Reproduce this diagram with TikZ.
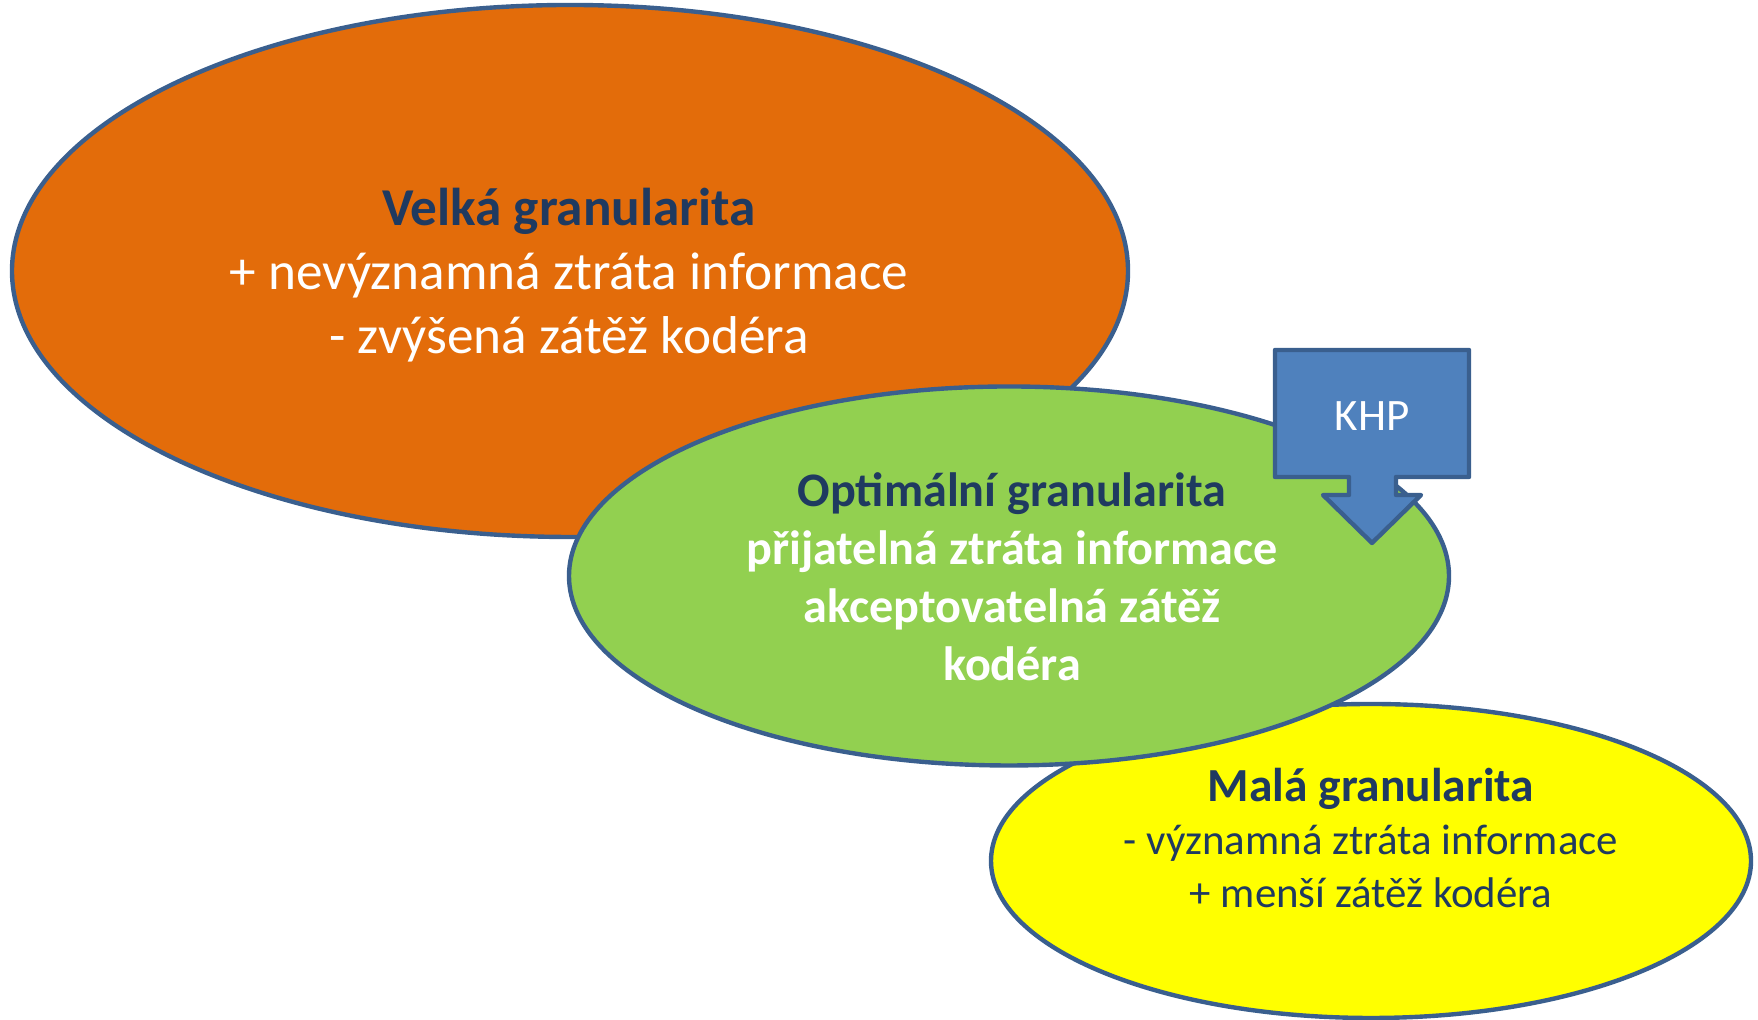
\documentclass[tikz,border=0pt]{standalone}
\usepackage{fontspec}
\setmainfont{Carlito}
\usepackage{tikz}
\usetikzlibrary{shapes.geometric}
\definecolor{edgeblue}{HTML}{3A5F8E}
\definecolor{navytext}{HTML}{1F3A60}
\definecolor{velkafill}{HTML}{E36C0A}
\definecolor{optfill}{HTML}{92D050}
\definecolor{malafill}{HTML}{FFFF00}
\definecolor{khpfill}{HTML}{4F81BD}
\tikzset{blob/.style={ellipse,draw=edgeblue,line width=1.25pt,inner sep=0pt}}
\tikzset{txt/.style={align=center,inner sep=0pt}}

\begin{document}
\begin{tikzpicture}
                    \useasboundingbox (0,0) rectangle (17.58,10.2);

                    \node[blob, fill=velkafill, minimum width=11.16cm, minimum height=5.32cm] (velka) at (5.70,7.49) {};
                    \node[blob, fill=malafill, minimum width=7.60cm, minimum height=3.14cm] (mala) at (13.71,1.59) {};
                    \node[blob, fill=optfill, minimum width=8.80cm, minimum height=3.79cm] (opt) at (10.09,4.44) {};

                    \node[txt, text=white, font=\fontsize{15.15}{18.2}\selectfont] (velkatext) at (5.69,7.45)
                        {\textcolor{navytext}{\bfseries Velká granularita}\\+ nevýznamná ztráta informace\\- zvýšená zátěž kodéra};
                    \node[txt, text=white, font=\fontsize{13.7}{16.5}\selectfont\bfseries] (opttext) at (10.12,4.43)
                        {\textcolor{navytext}{Optimální granularita}\\přijatelná ztráta informace\\akceptovatelná zátěž\\kodéra};
                    \node[txt, text=navytext, font=\fontsize{12.2}{15.1}\selectfont] (malatext) at (13.71,1.82)
                        {{\fontsize{13.5}{15.1}\selectfont\bfseries Malá granularita}\\- významná ztráta informace\\+ menší zátěž kodéra};

                    % callout arrow
                    \draw[fill=khpfill, draw=edgeblue, line width=1.25pt, line join=round]
                        (12.75,6.70) -- (14.69,6.70) -- (14.69,5.43) -- (13.96,5.43) -- (13.96,5.25)
                        -- (14.21,5.25) -- (13.72,4.77) -- (13.23,5.25) -- (13.49,5.25) -- (13.49,5.43)
                        -- (12.75,5.43) -- cycle;
                    \node[txt, text=white, font=\fontsize{12.8}{15}\selectfont] (khp) at (13.72,6.04) {KHP};

                \end{tikzpicture}
\end{document}
